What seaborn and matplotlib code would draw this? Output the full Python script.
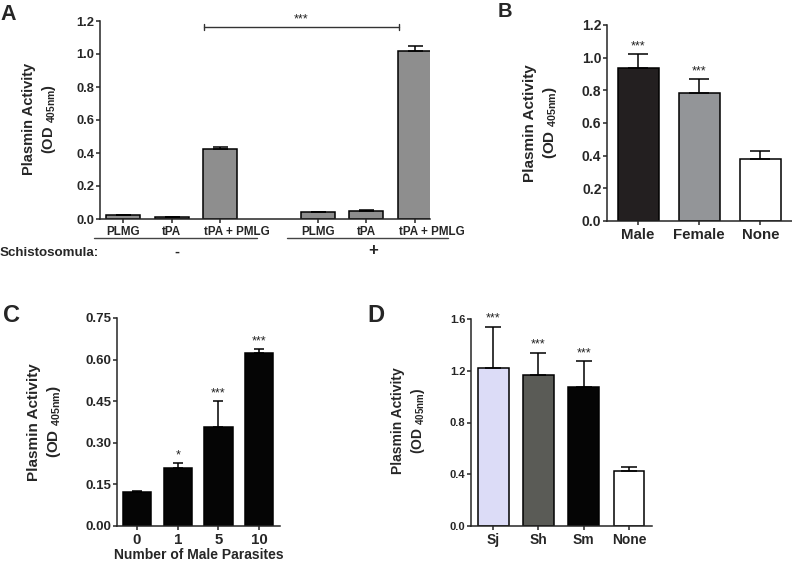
import matplotlib
matplotlib.use("Agg")
import matplotlib.pyplot as plt
import matplotlib.transforms as mtrans
import seaborn as sns
import pandas as pd

# ---------------- data ----------------
A_keys = ["PLMG-", "tPA-", "tPA+PMLG-", "PLMG+", "tPA+", "tPA+PMLG+"]
A_labels = ["PLMG", "tPA", "tPA + PMLG", "PLMG", "tPA", "tPA + PMLG"]
A_values = [0.022, 0.012, 0.422, 0.040, 0.048, 1.018]
A_errors = [0.005, 0.003, 0.016, 0.005, 0.005, 0.030]
A_group_labels = ["-", "+"]

B_labels = ["Male", "Female", "None"]
B_values = [0.935, 0.786, 0.381]
B_errors = [0.085, 0.082, 0.048]
B_stars = ["***", "***", ""]

C_labels = ["0", "1", "5", "10"]
C_values = [0.121, 0.209, 0.357, 0.623]
C_errors = [0.007, 0.017, 0.094, 0.014]
C_stars = ["", "*", "***", "***"]

D_labels = ["Sj", "Sh", "Sm", "None"]
D_values = [1.220, 1.165, 1.075, 0.425]
D_errors = [0.320, 0.175, 0.200, 0.032]
D_stars = ["***", "***", "***", ""]

A_color = "#8e8e8e"
B_colors = ["#231f20", "#939598", "#ffffff"]
C_color = "#050505"
D_colors = ["#dcdcf7", "#5a5b56", "#050505", "#ffffff"]

# ---------------- style ----------------
sns.set_theme(style="ticks")
plt.rcParams["font.family"] = ["Liberation Sans", "DejaVu Sans"]
plt.rcParams["mathtext.fontset"] = "custom"
plt.rcParams["mathtext.rm"] = "Liberation Sans"
plt.rcParams["mathtext.default"] = "regular"
plt.rcParams["axes.linewidth"] = 1.1
plt.rcParams["xtick.major.width"] = 1.1
plt.rcParams["ytick.major.width"] = 1.1

W, H = 792, 562
fig = plt.figure(figsize=(W / 100, H / 100), dpi=100)


def px_axes(l, t, r, b):
    return fig.add_axes([l / W, 1 - b / H, (r - l) / W, (b - t) / H])


def fx(x):
    return x / W


def fy(y):
    return 1 - y / H


def style_axes(ax, ysize, ticks):
    sns.despine(ax=ax)
    ax.set_xlabel("")
    ax.set_ylabel("")
    ax.set_yticks(ticks)
    ax.tick_params(axis="y", length=3, pad=1, labelsize=ysize)
    ax.tick_params(axis="x", length=3, pad=2)


def add_err(ax, xs, vals, errs, capsize):
    ax.errorbar(xs, vals, yerr=[[0] * len(errs), errs], fmt="none",
                ecolor="black", elinewidth=1.1, capsize=capsize, capthick=1.1,
                zorder=1)


def add_stars(ax, xs, vals, errs, stars, size=9):
    for x, v, e, s in zip(xs, vals, errs, stars):
        if s:
            ax.annotate(s, (x, v + e), xytext=(0, 3.5), textcoords="offset points",
                        ha="center", va="baseline", fontsize=size, color="#222222")


ylab = "Plasmin Activity\n(OD $_{405nm}$)"

# ---------------- Panel A ----------------
axA = px_axes(100, 21, 430, 219)
dfA = pd.DataFrame({"key": A_keys, "value": A_values})
orderA = A_keys[:3] + ["gap"] + A_keys[3:]
sns.barplot(data=dfA, x="key", y="value", order=orderA, color=A_color, saturation=1,
            width=0.7, edgecolor="black", linewidth=1.1, errorbar=None, ax=axA)
posA = [orderA.index(k) for k in A_keys]
add_err(axA, posA, A_values, A_errors, 5.4)
axA.set_ylim(0, 1.2)
axA.set_xlim(-0.47, 6.31)
style_axes(axA, 9.3, [0, 0.2, 0.4, 0.6, 0.8, 1.0, 1.2])
axA.set_yticklabels(["0.0", "0.2", "0.4", "0.6", "0.8", "1.0", "1.2"], fontweight="bold")
axA.set_xticks(posA)
axA.set_xticklabels(A_labels, fontsize=8.4, fontweight="bold")
shift = mtrans.ScaledTranslation(0.17, 0, fig.dpi_scale_trans)
for lab in axA.get_xticklabels():
    if "+" in lab.get_text():
        lab.set_transform(lab.get_transform() + shift)
# significance bracket
bx0, bx1, by = 2 - 0.33, 6 - 0.33, 1.164
axA.plot([bx0, bx1], [by, by], color="#333333", lw=1.0, clip_on=False)
axA.plot([bx0, bx0], [by - 0.018, by + 0.018], color="#333333", lw=1.0, clip_on=False)
axA.plot([bx1, bx1], [by - 0.018, by + 0.018], color="#333333", lw=1.0, clip_on=False)
axA.annotate("***", ((bx0 + bx1) / 2, by), xytext=(0, 3), textcoords="offset points",
             ha="center", va="baseline", fontsize=9, color="#222222", annotation_clip=False)
# group underlines
tr = axA.get_xaxis_transform()
yl = (219 - 238) / 198
axA.plot([-0.6, 2.75], [yl, yl], transform=tr, color="#444444", lw=1.0, clip_on=False)
axA.plot([3.37, 6.67], [yl, yl], transform=tr, color="#444444", lw=1.0, clip_on=False)
fig.text(fx(0), fy(253), "Schistosomula:", ha="left", va="center", fontsize=9.6, fontweight="bold")
fig.text(fx(177), fy(252), A_group_labels[0], ha="center", va="center", fontsize=10.5, fontweight="bold")
fig.text(fx(373), fy(250), A_group_labels[1], ha="center", va="center", fontsize=12, fontweight="bold")
fig.text(fx(40), fy(119), ylab, rotation=90, ha="center", va="center", fontsize=10.5,
         fontweight="bold", multialignment="center", linespacing=1.3)

# ---------------- Panel B ----------------
axB = px_axes(607, 25, 792, 221)
dfB = pd.DataFrame({"group": B_labels, "value": B_values})
sns.barplot(data=dfB, x="group", y="value", hue="group", palette=dict(zip(B_labels, B_colors)),
            saturation=1, legend=False, width=0.67, edgecolor="black", linewidth=1.1,
            errorbar=None, ax=axB)
add_err(axB, range(3), B_values, B_errors, 7.5)
add_stars(axB, range(3), B_values, B_errors, B_stars)
axB.set_ylim(0, 1.2)
axB.set_xlim(-0.51, 2.52)
style_axes(axB, 10, [0, 0.2, 0.4, 0.6, 0.8, 1.0, 1.2])
axB.set_yticklabels(["0.0", "0.2", "0.4", "0.6", "0.8", "1.0", "1.2"], fontweight="bold")
axB.set_xticks(range(3))
axB.set_xticklabels(B_labels, fontsize=10.8, fontweight="bold")
fig.text(fx(541), fy(123), ylab, rotation=90, ha="center", va="center", fontsize=11,
         fontweight="bold", multialignment="center", linespacing=1.3)

# ---------------- Panel C ----------------
axC = px_axes(117, 318, 280, 526)
dfC = pd.DataFrame({"n": C_labels, "value": C_values})
sns.barplot(data=dfC, x="n", y="value", color=C_color, saturation=1, width=0.69,
            edgecolor="black", linewidth=1.1, errorbar=None, ax=axC)
add_err(axC, range(4), C_values, C_errors, 3.9)
add_stars(axC, range(4), C_values, C_errors, C_stars)
axC.set_ylim(0, 0.75)
axC.set_xlim(-0.49, 3.51)
style_axes(axC, 9.5, [0, 0.15, 0.30, 0.45, 0.60, 0.75])
axC.set_yticklabels(["0.00", "0.15", "0.30", "0.45", "0.60", "0.75"], fontweight="bold")
axC.set_xticks(range(4))
axC.set_xticklabels(C_labels, fontsize=10.8, fontweight="bold")
axC.set_xlabel("Number of Male Parasites", fontsize=10, fontweight="bold", labelpad=1)
fig.text(fx(45), fy(422), ylab, rotation=90, ha="center", va="center", fontsize=11,
         fontweight="bold", multialignment="center", linespacing=1.3)

# ---------------- Panel D ----------------
axD = px_axes(471, 319, 652, 526)
dfD = pd.DataFrame({"species": D_labels, "value": D_values})
sns.barplot(data=dfD, x="species", y="value", hue="species", palette=dict(zip(D_labels, D_colors)),
            saturation=1, legend=False, width=0.68, edgecolor="black", linewidth=1.1,
            errorbar=None, ax=axD)
add_err(axD, range(4), D_values, D_errors, 6.0)
add_stars(axD, range(4), D_values, D_errors, D_stars)
axD.set_ylim(0, 1.6)
axD.set_xlim(-0.49, 3.51)
style_axes(axD, 8, [0, 0.4, 0.8, 1.2, 1.6])
axD.set_yticklabels(["0.0", "0.4", "0.8", "1.2", "1.6"], fontweight="bold")
axD.set_xticks(range(4))
axD.set_xticklabels(D_labels, fontsize=10, fontweight="bold")
fig.text(fx(409), fy(421), ylab, rotation=90, ha="center", va="center", fontsize=10,
         fontweight="bold", multialignment="center", linespacing=1.3)

# ---------------- panel letters ----------------
fig.text(fx(0), fy(20), "A", fontsize=15.5, fontweight="bold", ha="left", va="baseline")
fig.text(fx(498), fy(17), "B", fontsize=14.5, fontweight="bold", ha="left", va="baseline")
fig.text(fx(3), fy(322), "C", fontsize=17, fontweight="bold", ha="left", va="baseline")
fig.text(fx(367), fy(322), "D", fontsize=17, fontweight="bold", ha="left", va="baseline")

fig.savefig("out.png", dpi=100, facecolor="white")
